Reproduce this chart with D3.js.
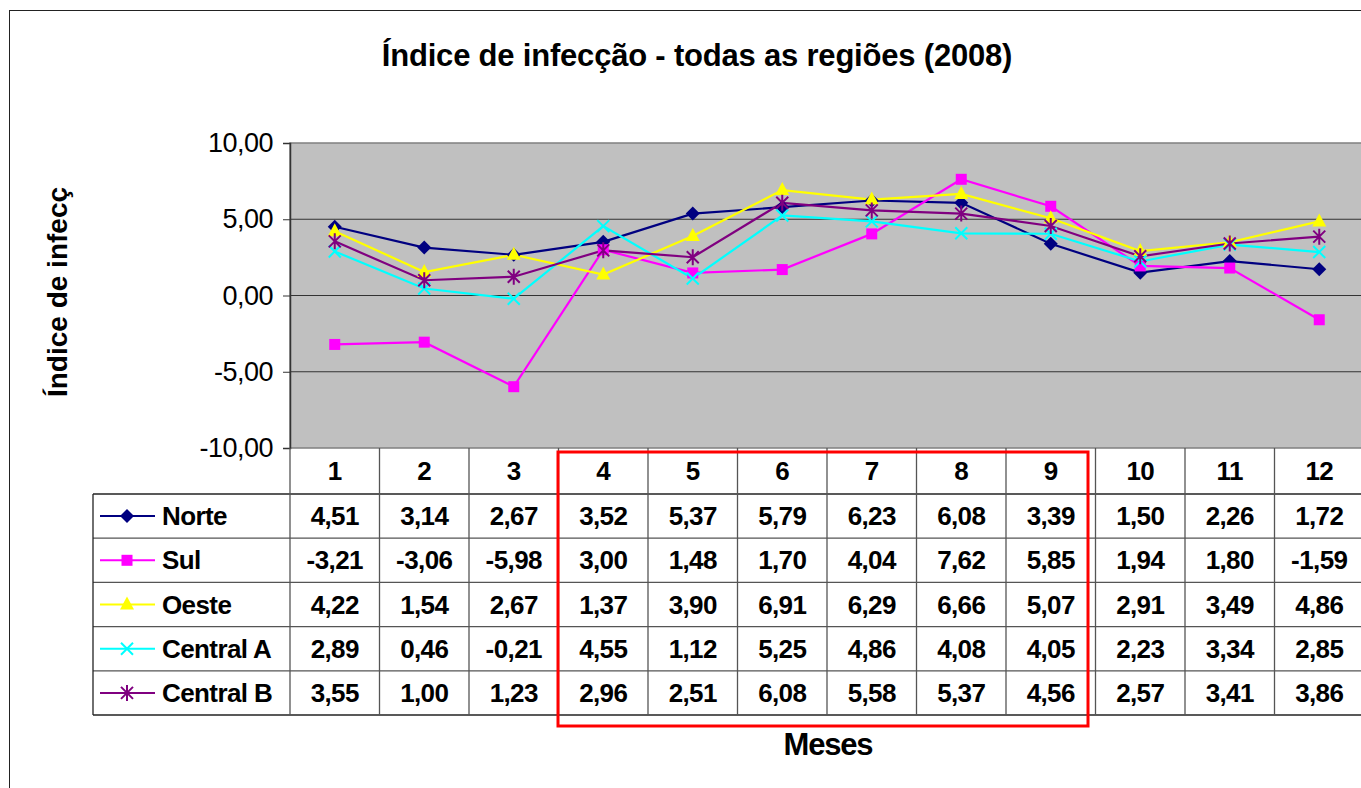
<!DOCTYPE html>
<html lang="pt">
<head>
<meta charset="utf-8">
<script src="https://cdnjs.cloudflare.com/ajax/libs/d3/7.8.5/d3.min.js"></script>
<style>
  body { margin: 0; background: #fff; }
  svg { display: block; font-family: "Liberation Sans", Arial, sans-serif; }
  .cell { font-weight: bold; font-size: 26px; letter-spacing: -0.6px; }
</style>
</head>
<body>
<svg width="1361" height="788"></svg>
<script>
// dados
var months = ["1","2","3","4","5","6","7","8","9","10","11","12"];
var seriesNames = ["Norte", "Sul", "Oeste", "Central A", "Central B"];
var norte    = [4.51, 3.14, 2.67, 3.52, 5.37, 5.79, 6.23, 6.08, 3.39, 1.50, 2.26, 1.72];
var sul      = [-3.21, -3.06, -5.98, 3.00, 1.48, 1.70, 4.04, 7.62, 5.85, 1.94, 1.80, -1.59];
var oeste    = [4.22, 1.54, 2.67, 1.37, 3.90, 6.91, 6.29, 6.66, 5.07, 2.91, 3.49, 4.86];
var centralA = [2.89, 0.46, -0.21, 4.55, 1.12, 5.25, 4.86, 4.08, 4.05, 2.23, 3.34, 2.85];
var centralB = [3.55, 1.00, 1.23, 2.96, 2.51, 6.08, 5.58, 5.37, 4.56, 2.57, 3.41, 3.86];
var yTicks = [-10, -5, 0, 5, 10];

var series = [
  {name: seriesNames[0], values: norte, color: "#000080", marker: "diamond"},
  {name: seriesNames[1], values: sul, color: "#ff00ff", marker: "square"},
  {name: seriesNames[2], values: oeste, color: "#ffff00", marker: "triangle"},
  {name: seriesNames[3], values: centralA, color: "#00ffff", marker: "x"},
  {name: seriesNames[4], values: centralB, color: "#800080", marker: "star"}
];

var svg = d3.select("svg");
var fmt = function (v) { return d3.format(".2f")(v).replace(".", ",").replace("−", "-"); };

// moldura externa
svg.append("rect").attr("x", 9.5).attr("y", 10.5).attr("width", 1400).attr("height", 800)
  .attr("fill", "#fff").attr("stroke", "#222").attr("stroke-width", 1);

// titulo
svg.append("text").attr("x", 697).attr("y", 66).attr("text-anchor", "middle")
  .attr("font-weight", "bold").attr("font-size", 31).attr("letter-spacing", "-0.2px")
  .text("Índice de infecção - todas as regiões (2008)");

var x = d3.scaleBand().domain(months).range([290, 1364]);
var y = d3.scaleLinear().domain([-10, 10]).range([448, 143]);

// area do grafico
svg.append("rect").attr("x", 290).attr("y", y(10)).attr("width", 1100).attr("height", y(-10) - y(10))
  .attr("fill", "#c0c0c0").attr("stroke", "#808080").attr("stroke-width", 1.5);

svg.append("g").selectAll("line").data(yTicks.filter(function (d) { return d > -10 && d < 10; }))
  .enter().append("line")
  .attr("x1", 290).attr("x2", 1361)
  .attr("y1", function (d) { return y(d); }).attr("y2", function (d) { return y(d); })
  .attr("stroke", "#333").attr("stroke-width", 1.2);

// eixo y
var yAxis = svg.append("g").attr("transform", "translate(290,0)")
  .call(d3.axisLeft(y).tickValues(yTicks).tickSize(7).tickPadding(10).tickFormat(fmt));
yAxis.select(".domain").attr("stroke", "#333").attr("stroke-width", 1.5);
yAxis.selectAll(".tick line").attr("stroke", "#333");
yAxis.selectAll("text").attr("font-size", 27).attr("font-family", "Liberation Sans, Arial, sans-serif")
  .attr("letter-spacing", "-0.5px").attr("fill", "#000");

svg.append("text").attr("transform", "translate(67,292) rotate(-90)")
  .attr("text-anchor", "middle").attr("font-weight", "bold").attr("font-size", 28)
  .text("Índice de infecç");

// tabela
var rowTop = 494, rowH = 44.2, tableLeft = 93;
var nRows = series.length;
var tableBottom = rowTop + nRows * rowH;

var grid = svg.append("g").attr("stroke", "#555").attr("stroke-width", 1.3);
// linhas horizontais
d3.range(nRows + 1).forEach(function (i) {
  grid.append("line").attr("x1", tableLeft).attr("x2", 1361)
    .attr("y1", rowTop + i * rowH).attr("y2", rowTop + i * rowH)
    .attr("stroke", i === 0 || i === nRows ? "#222" : "#555");
});
// linhas verticais
grid.append("line").attr("x1", tableLeft).attr("x2", tableLeft).attr("y1", rowTop).attr("y2", tableBottom).attr("stroke", "#222");
months.forEach(function (m) {
  grid.append("line").attr("x1", x(m)).attr("x2", x(m)).attr("y1", y(-10)).attr("y2", tableBottom);
});

// cabecalho
svg.append("g").selectAll("text").data(months).enter().append("text")
  .attr("class", "cell").attr("text-anchor", "middle")
  .attr("x", function (d) { return x(d) + x.bandwidth() / 2; })
  .attr("y", 480).text(function (d) { return d; });

// valores
series.forEach(function (s, i) {
  var cy = rowTop + i * rowH + rowH / 2 + 9;
  svg.append("g").selectAll("text").data(s.values).enter().append("text")
    .attr("class", "cell").attr("text-anchor", "middle")
    .attr("x", function (d, j) { return x(months[j]) + x.bandwidth() / 2; })
    .attr("y", cy).text(fmt);
  // legenda
  var ly = rowTop + i * rowH + rowH / 2;
  svg.append("line").attr("x1", 100).attr("x2", 155).attr("y1", ly).attr("y2", ly)
    .attr("stroke", s.color).attr("stroke-width", 2);
  drawMarker(svg, s, 127, ly);
  svg.append("text").attr("class", "cell").attr("x", 162).attr("y", cy)
    .attr("letter-spacing", "-0.2px").text(s.name);
});

// linhas e marcadores
var line = d3.line()
  .x(function (d, j) { return x(months[j]) + x.bandwidth() / 2; })
  .y(function (d) { return y(d); });

series.forEach(function (s) {
  svg.append("path").datum(s.values).attr("d", line)
    .attr("fill", "none").attr("stroke", s.color).attr("stroke-width", 2.2);
});
series.forEach(function (s) {
  s.values.forEach(function (v, j) {
    drawMarker(svg, s, x(months[j]) + x.bandwidth() / 2, y(v));
  });
});

function drawMarker(parent, s, cx, cy) {
  var g = parent.append("g").attr("transform", "translate(" + cx + "," + cy + ")");
  if (s.marker === "diamond") {
    g.append("path").attr("d", "M0,-7L7,0L0,7L-7,0Z").attr("fill", s.color);
  } else if (s.marker === "square") {
    g.append("rect").attr("x", -5.5).attr("y", -5.5).attr("width", 11).attr("height", 11).attr("fill", s.color);
  } else if (s.marker === "triangle") {
    g.append("path").attr("d", "M0,-8L7,5L-7,5Z").attr("fill", s.color);
  } else if (s.marker === "x") {
    g.append("path").attr("d", "M-6,-6L6,6M-6,6L6,-6").attr("stroke", s.color).attr("stroke-width", 2);
  } else {
    g.append("path").attr("d", "M-6,-6L6,6M-6,6L6,-6M0,-8L0,8").attr("stroke", s.color).attr("stroke-width", 2);
  }
}

// destaque vermelho
svg.append("rect").attr("x", 558).attr("y", 452).attr("width", 530).attr("height", 274)
  .attr("fill", "none").attr("stroke", "#ff0000").attr("stroke-width", 3);

// titulo eixo x
svg.append("text").attr("x", 828).attr("y", 755).attr("text-anchor", "middle")
  .attr("font-weight", "bold").attr("font-size", 31).attr("letter-spacing", "-1.2px").text("Meses");
</script>
</body>
</html>
